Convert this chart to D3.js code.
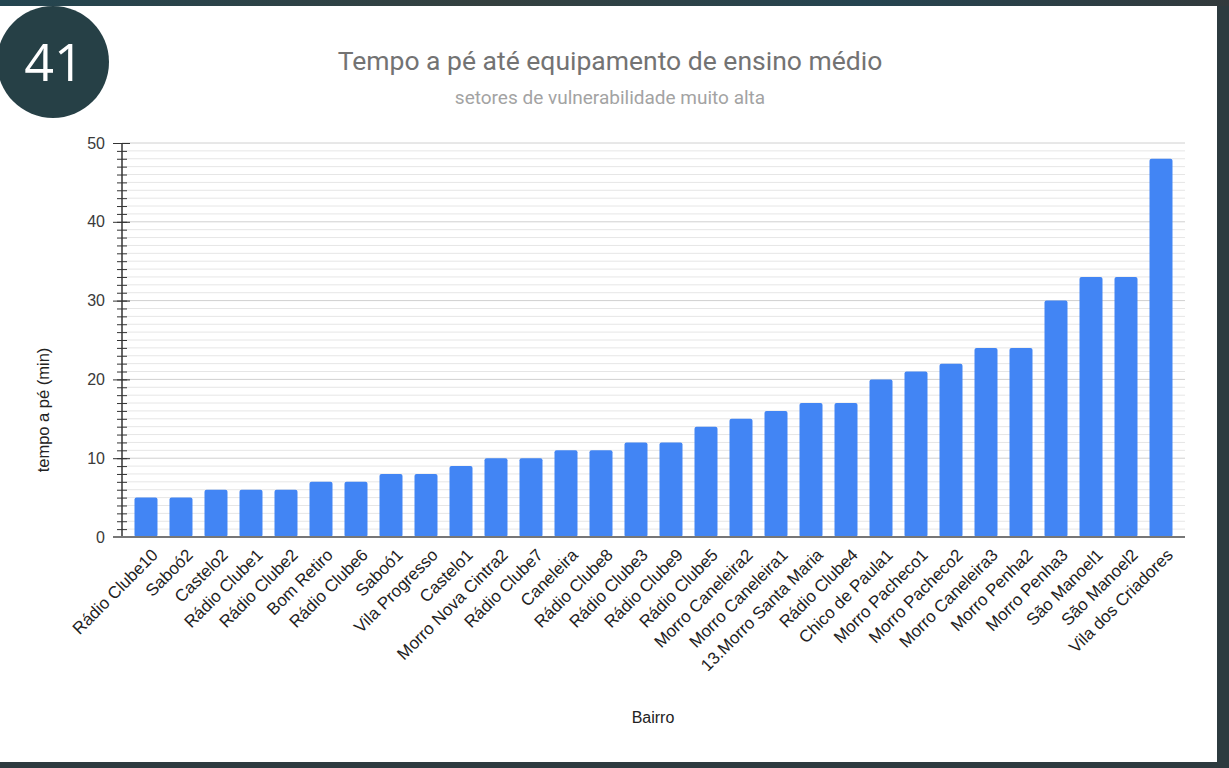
<!DOCTYPE html>
<html>
<head>
<meta charset="utf-8">
<script src="https://cdn.jsdelivr.net/npm/d3@7"></script>
<style>
	html, body { margin: 0; padding: 0; background: #2d3a3d; }
	svg { display: block; }
</style>
</head>
<body>
<div id="container"></div>
<script>
(function () {
	// data
	var bairros = ["Rádio Clube10", "Saboó2", "Castelo2", "Rádio Clube1", "Rádio Clube2",
		"Bom Retiro", "Rádio Clube6", "Saboó1", "Vila Progresso", "Castelo1",
		"Morro Nova Cintra2", "Rádio Clube7", "Caneleira", "Rádio Clube8", "Rádio Clube3",
		"Rádio Clube9", "Rádio Clube5", "Morro Caneleira2", "Morro Caneleira1", "13.Morro Santa Maria",
		"Rádio Clube4", "Chico de Paula1", "Morro Pacheco1", "Morro Pacheco2", "Morro Caneleira3",
		"Morro Penha2", "Morro Penha3", "São Manoel1", "São Manoel2", "Vila dos Criadores"];
	var minutos = [5, 5, 6, 6, 6, 7, 7, 8, 8, 9, 10, 10, 11, 11, 12, 12, 14, 15, 16, 17,
		17, 20, 21, 22, 24, 24, 30, 33, 33, 48];
	var yTicks = [0, 10, 20, 30, 40, 50];

	var W = 1229, H = 768;
	var margin = {top: 143, right: 1229 - 1185, bottom: 768 - 537, left: 122},
		width = W - margin.left - margin.right,
		height = H - margin.top - margin.bottom;

	var labelFont = "Arial, 'Liberation Sans', sans-serif";

	var svg = d3.select("#container").append("svg")
		.attr("width", W)
		.attr("height", H);

	// frame
	var defs = svg.append("defs");
	var grad = defs.append("linearGradient").attr("id", "topgrad");
	grad.append("stop").attr("offset", "0%").attr("stop-color", "#244550");
	grad.append("stop").attr("offset", "40%").attr("stop-color", "#34403f");
	grad.append("stop").attr("offset", "70%").attr("stop-color", "#254450");
	grad.append("stop").attr("offset", "100%").attr("stop-color", "#323a3c");
	svg.append("rect").attr("width", W).attr("height", H).attr("fill", "#2d3b3f");
	svg.append("rect").attr("width", W).attr("height", 6).attr("fill", "url(#topgrad)");
	svg.append("rect").attr("x", 0).attr("y", 6).attr("width", 1217).attr("height", 756).attr("fill", "#fff");

	// title
	svg.append("text")
		.attr("x", 610).attr("y", 70)
		.attr("text-anchor", "middle")
		.style("font-family", "Roboto, Arial, sans-serif")
		.style("font-size", "26.5px")
		.style("fill", "#737373")
		.text("Tempo a pé até equipamento de ensino médio");
	svg.append("text")
		.attr("x", 610).attr("y", 104)
		.attr("text-anchor", "middle")
		.style("font-family", "Roboto, Arial, sans-serif")
		.style("font-size", "19px")
		.style("fill", "#a3a3a3")
		.text("setores de vulnerabilidade muito alta");

	// badge
	svg.append("circle").attr("cx", 53).attr("cy", 62).attr("r", 56).attr("fill", "#264046");
	svg.append("text")
		.attr("x", 54).attr("y", 81)
		.attr("text-anchor", "middle")
		.style("font-family", "'Open Sans', sans-serif")
		.style("font-size", "52px")
		.style("fill", "#fff")
		.text("41");

	var g = svg.append("g")
		.attr("transform", "translate(" + margin.left + "," + margin.top + ")");

	// scales
	var xScale = d3.scaleBand()
		.domain(bairros)
		.range([0, width])
		.paddingInner(0.343)
		.paddingOuter(0.357);

	var yScale = d3.scaleLinear()
		.domain([0, 50])
		.range([height, 0]);

	// grid, one line per minute
	g.append("g")
		.selectAll("line")
		.data(d3.range(1, 51))
		.enter().append("line")
			.attr("x1", 0).attr("x2", width)
			.attr("y1", function(d) { return yScale(d); })
			.attr("y2", function(d) { return yScale(d); })
			.attr("stroke", function(d) { return d % 10 === 0 ? "#d0d0d0" : "#e6e6e6"; })
			.attr("stroke-width", 1);

	// bars
	g.selectAll(".bar")
		.data(minutos)
		.enter().append("rect")
			.attr("class", "bar")
			.attr("x", function(d, i) { return xScale(bairros[i]); })
			.attr("y", function(d) { return yScale(d); })
			.attr("width", xScale.bandwidth())
			.attr("height", function(d) { return yScale(0) - yScale(d); })
			.attr("rx", 2)
			.attr("fill", "#4285f4");

	// y axis: minor ticks
	g.append("g")
		.call(d3.axisLeft(yScale).tickValues(d3.range(0, 51)).tickSize(4).tickFormat(""))
		.call(function(a) { a.select(".domain").remove(); })
		.selectAll(".tick line").attr("x2", 5).attr("x1", -5).attr("stroke", "#333");

	// y axis: major ticks and labels
	var yAxis = g.append("g")
		.call(d3.axisLeft(yScale).tickValues(yTicks).tickSize(9).tickPadding(8));
	yAxis.select(".domain").attr("stroke", "#333").attr("stroke-width", 1.5).attr("d", "M0,0V" + height);
	yAxis.selectAll(".tick line").attr("stroke", "#333").attr("x2", 8).attr("x1", -9);
	yAxis.selectAll("text")
		.style("font-family", labelFont)
		.style("font-size", "16px")
		.style("fill", "#3a3a3a");

	// baseline
	g.append("line")
		.attr("x1", -9).attr("x2", width)
		.attr("y1", yScale(0)).attr("y2", yScale(0))
		.attr("stroke", "#777").attr("stroke-width", 2);

	// x labels
	var xAxis = g.append("g")
		.attr("transform", "translate(0," + height + ")")
		.call(d3.axisBottom(xScale).tickSize(0).tickPadding(0));
	xAxis.select(".domain").remove();
	xAxis.selectAll("text")
		.attr("text-anchor", "end")
		.attr("dy", null)
		.attr("y", 0)
		.attr("transform", "translate(13,19) rotate(-45)")
		.style("font-family", labelFont)
		.style("font-size", "17px")
		.style("fill", "#222");

	// axis titles
	svg.append("text")
		.attr("x", 653).attr("y", 723)
		.attr("text-anchor", "middle")
		.style("font-family", labelFont)
		.style("font-size", "16px")
		.style("fill", "#222")
		.text("Bairro");
	svg.append("text")
		.attr("transform", "translate(49,410) rotate(-90)")
		.attr("text-anchor", "middle")
		.style("font-family", labelFont)
		.style("font-size", "16.5px")
		.style("fill", "#222")
		.text("tempo a pé (min)");
})();
</script>
</body>
</html>
